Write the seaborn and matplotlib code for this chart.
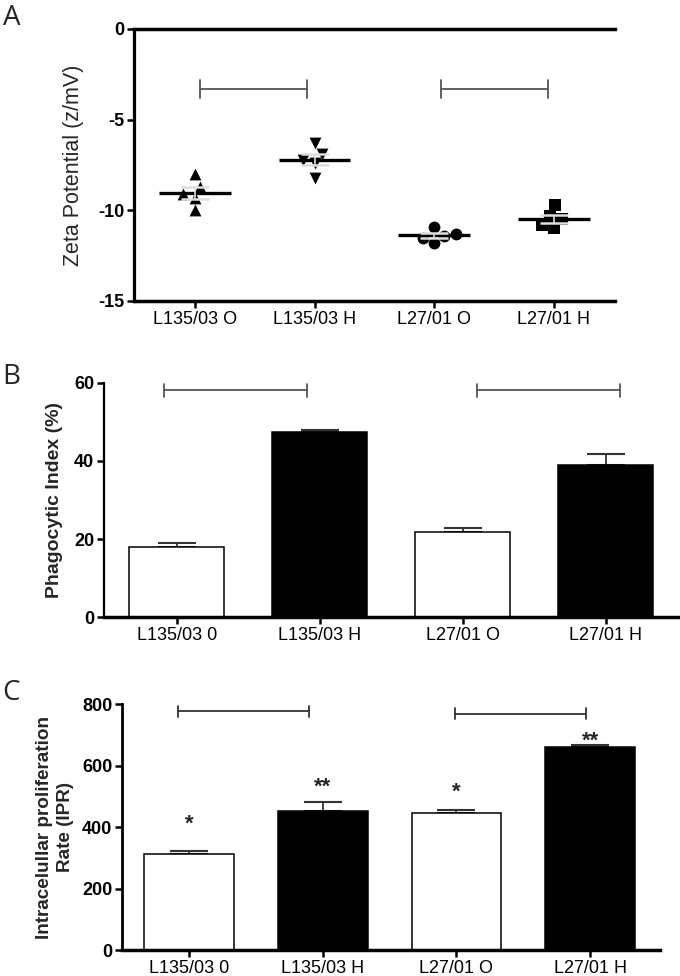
import numpy as np
import pandas as pd
import matplotlib
matplotlib.use("Agg")
import matplotlib.pyplot as plt
import seaborn as sns

sns.set_theme(style="white")
plt.rcParams['font.family'] = ['Liberation Sans', 'DejaVu Sans']
plt.rcParams['axes.unicode_minus'] = False

# panel A - zeta potential, individual measurements
zeta_groups = ["L135/03 O", "L135/03 H", "L27/01 O", "L27/01 H"]
zeta_markers = ["^", "v", "o", "s"]
zeta_vals = [
    [-8.0, -8.7, -9.1, -9.3, -10.0],
    [-6.3, -6.9, -7.2, -7.4, -8.2],
    [-10.9, -11.3, -11.4, -11.5, -11.8],
    [-9.7, -10.3, -10.5, -10.8, -11.0],
]
zeta_brackets = [(0.04, 0.94, -3.3), (2.06, 2.95, -3.3)]

# panel B - phagocytic index
phago_labels = ["L135/03 0", "L135/03 H", "L27/01 O", "L27/01 H"]
phago_mean = [17.9, 47.5, 21.9, 39.0]
phago_err = [1.0, 0.5, 1.0, 2.9]
phago_brackets = [(-0.09, 0.91, 58.1), (2.10, 3.10, 58.1)]

# panel C - intracellular proliferation rate
ipr_labels = ["L135/03 0", "L135/03 H", "L27/01 O", "L27/01 H"]
ipr_mean = [312, 453, 445, 662]
ipr_err = [11, 29, 12, 5]
ipr_stars = ["*", "**", "*", "**"]
ipr_star_y = [390, 512, 496, 660]
ipr_brackets = [(-0.08, 0.90, 776), (1.99, 2.97, 768)]

bar_colors = ["white", "black", "white", "black"]

fig = plt.figure(figsize=(6.8, 9.76), dpi=100)
axA = fig.add_axes([0.197, 0.6916, 0.707, 0.2787])
axB = fig.add_axes([0.153, 0.3678, 0.847, 0.2398])
axC = fig.add_axes([0.1794, 0.0266, 0.791, 0.252])


def bracket(ax, x0, x1, y, h, color="#555555"):
    ax.plot([x0, x1], [y, y], color=color, lw=1.3, clip_on=False)
    ax.plot([x0, x0], [y - h, y + h], color=color, lw=1.3, clip_on=False)
    ax.plot([x1, x1], [y - h, y + h], color=color, lw=1.3, clip_on=False)


def style_axis(ax, lw_left, lw_bottom):
    for s in ["right", "top"]:
        ax.spines[s].set_visible(False)
    ax.spines["left"].set_linewidth(lw_left)
    ax.spines["bottom"].set_linewidth(lw_bottom)
    ax.spines["left"].set_color("black")
    ax.spines["bottom"].set_color("black")
    ax.tick_params(axis="both", direction="out", length=5, width=1.8,
                   colors="black", bottom=True, left=True, pad=2)
    for t in ax.get_yticklabels():
        t.set_fontweight("bold")
        t.set_fontsize(13)
    for t in ax.get_xticklabels():
        t.set_fontsize(13)


# ---- panel A
rows = []
for g, vals in zip(zeta_groups, zeta_vals):
    for v in vals:
        rows.append({"group": g, "zeta": v})
dfA = pd.DataFrame(rows)
for i, (g, m) in enumerate(zip(zeta_groups, zeta_markers)):
    sub = dfA.copy()
    sub.loc[sub["group"] != g, "zeta"] = np.nan
    sns.swarmplot(data=sub, x="group", y="zeta", order=zeta_groups, marker=m,
                  color="black", size=8.5, ax=axA)
for i, vals in enumerate(zeta_vals):
    m = np.mean(vals)
    sem = np.std(vals, ddof=1) / np.sqrt(len(vals))
    axA.hlines(m, i - 0.3, i + 0.3, color="black", lw=2.4, zorder=5)
    axA.errorbar(i, m, yerr=sem, fmt="none", ecolor="#dddddd", elinewidth=1.2,
                 capsize=10, capthick=1.8, zorder=6)
for x0, x1, y in zeta_brackets:
    bracket(axA, x0, x1, y, 0.5)
axA.set_xlim(-0.51, 3.51)
axA.set_ylim(-15, 0)
axA.set_yticks([0, -5, -10, -15])
axA.set_xlabel("")
axA.set_ylabel("Zeta Potential (z/mV)", fontsize=15.5, labelpad=10)
style_axis(axA, 2.3, 2.5)
axA.spines["top"].set_visible(True)
axA.spines["top"].set_linewidth(2.5)
axA.spines["top"].set_color("black")

# ---- panel B
dfB = pd.DataFrame({"group": phago_labels, "value": phago_mean})
sns.barplot(data=dfB, x="group", y="value", hue="group", palette=bar_colors,
            edgecolor="black", linewidth=1.1, width=0.665, errorbar=None,
            legend=False, ax=axB)
axB.errorbar(range(4), phago_mean, yerr=[np.zeros(4), phago_err], fmt="none",
             ecolor="#333333", elinewidth=1.3, capsize=14, capthick=1.5, zorder=0.5)
for x0, x1, y in phago_brackets:
    bracket(axB, x0, x1, y, 1.7)
axB.set_xlim(-0.51, 3.52)
axB.set_ylim(0, 60)
axB.set_yticks([0, 20, 40, 60])
axB.set_xlabel("")
axB.set_ylabel("Phagocytic Index (%)", fontsize=14, fontweight="bold", labelpad=8)
style_axis(axB, 1.6, 2.5)

# ---- panel C
dfC = pd.DataFrame({"group": ipr_labels, "value": ipr_mean})
sns.barplot(data=dfC, x="group", y="value", hue="group", palette=bar_colors,
            edgecolor="black", linewidth=1.1, width=0.67, errorbar=None,
            legend=False, ax=axC)
axC.errorbar(range(4), ipr_mean, yerr=[np.zeros(4), ipr_err], fmt="none",
             ecolor="#333333", elinewidth=1.3, capsize=14, capthick=1.5, zorder=0.5)
for i, (s, y) in enumerate(zip(ipr_stars, ipr_star_y)):
    axC.text(i, y, s, ha="center", va="baseline", fontsize=16, fontweight="bold")
for x0, x1, y in ipr_brackets:
    bracket(axC, x0, x1, y, 18, color="#333333")
axC.set_xlim(-0.50, 3.52)
axC.set_ylim(0, 800)
axC.set_yticks([0, 200, 400, 600, 800])
axC.set_xlabel("")
axC.set_ylabel("Intracelullar proliferation\nRate (IPR)", fontsize=13.6,
               fontweight="bold", labelpad=6, linespacing=1.3)
style_axis(axC, 2.0, 2.5)

for lab, y in [("A", 25), ("B", 384), ("C", 700)]:
    fig.text(0.004, 1 - y / 976, lab, fontsize=20, va="baseline", ha="left",
             family=["Open Sans", "DejaVu Sans"])

fig.savefig("out.png", dpi=100)
